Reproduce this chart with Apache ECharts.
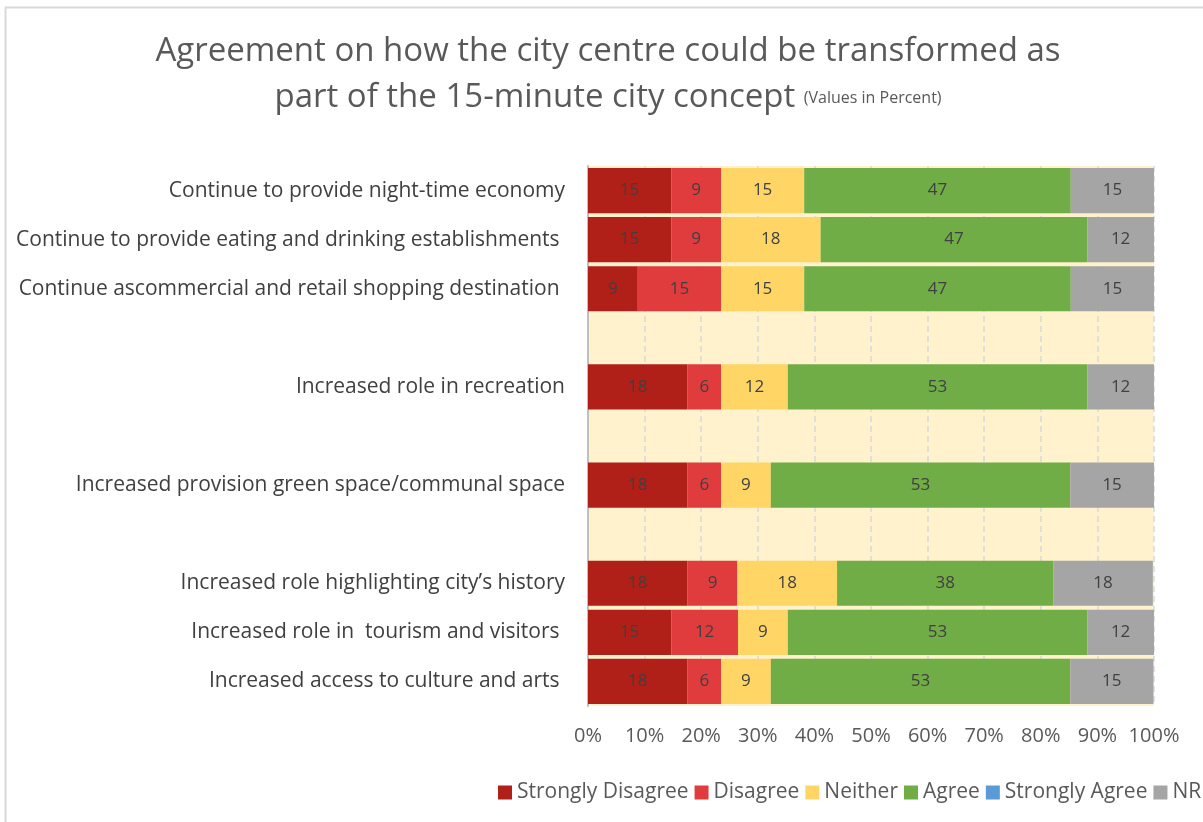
<!DOCTYPE html>
<html>
<head>
<meta charset="utf-8">
<script src="https://cdn.jsdelivr.net/npm/echarts@6/dist/echarts.min.js"></script>
<style>
  html, body { margin: 0; padding: 0; background: #fff; overflow: hidden; }
  #chart { width: 1400px; height: 822px; }
</style>
</head>
<body>
<div id="chart"></div>
<script>
// rows top to bottom, '' = empty spacer rows
const categories = [
  "Continue to provide night-time economy",
  "Continue to provide eating and drinking establishments ",
  "Continue ascommercial and retail shopping destination ",
  "",
  "Increased role in recreation",
  "",
  "Increased provision green space/communal space",
  "",
  "Increased role highlighting city\u2019s history",
  "Increased role in  tourism and visitors ",
  "Increased access to culture and arts ",
];
const seriesNames = ["Strongly Disagree", "Disagree", "Neither", "Agree", "Strongly Agree", "NR"];
const stronglyDisagree = [14.7, 14.7, 8.8, null, 17.6, null, 17.6, null, 17.6, 14.7, 17.6];
const disagree = [8.8, 8.8, 14.7, null, 5.9, null, 5.9, null, 8.8, 11.8, 5.9];
const neither = [14.7, 17.6, 14.7, null, 11.8, null, 8.8, null, 17.6, 8.8, 8.8];
const agree = [47.1, 47.1, 47.1, null, 52.9, null, 52.9, null, 38.2, 52.9, 52.9];
const stronglyAgree = [0, 0, 0, null, 0, null, 0, null, 0, 0, 0];
const nr = [14.7, 11.8, 14.7, null, 11.8, null, 14.8, null, 17.6, 11.8, 14.7];
const colors = ["#B11F19", "#E13C3D", "#FFD666", "#70AD47", "#5B9BD5", "#A5A5A5"];

const FONT = "Open Sans";
var myChart = echarts.init(document.getElementById("chart"));

const seriesData = [stronglyDisagree, disagree, neither, agree, stronglyAgree, nr];
const series = seriesData.map(function (d, i) {
  return {
    name: seriesNames[i],
    type: "bar",
    stack: "total",
    barCategoryGap: "8%",
    itemStyle: { color: colors[i] },
    label: {
      show: true,
      position: "inside",
      color: "#404040",
      fontFamily: FONT,
      fontSize: 17,
      formatter: function (p) {
        return p.value ? Math.round(p.value) : "";
      },
    },
    data: d,
  };
});

var option = {
  animation: false,
  textStyle: { fontFamily: FONT },
  title: {
    text: "Agreement on how the city centre could be transformed as\npart of the 15-minute city concept {s|(Values in Percent)}",
    left: 603,
    top: 24,
    textAlign: "center",
    textStyle: {
      fontFamily: FONT,
      fontSize: 33,
      fontWeight: "normal",
      color: "#595959",
      lineHeight: 46,
      rich: {
        s: { fontFamily: FONT, fontSize: 16, color: "#595959" },
      },
    },
  },
  legend: {
    left: 493,
    top: 777,
    icon: "rect",
    itemWidth: 14,
    itemHeight: 14,
    itemGap: 6,
    textStyle: { fontFamily: FONT, fontSize: 21, color: "#595959" },
    data: seriesNames,
  },
  graphic: [
    {
      type: "rect",
      shape: { x: 5.5, y: 7.5, width: 1500, height: 1000 },
      style: { fill: "none", stroke: "#D9D9D9", lineWidth: 2 },
      silent: true,
    },
  ],
  grid: {
    left: 588,
    right: 246,
    top: 166,
    bottom: 116,
    show: true,
    backgroundColor: "#FFF2CC",
    borderWidth: 0,
  },
  xAxis: {
    type: "value",
    min: 0,
    max: 100,
    interval: 10,
    axisLine: { show: false },
    axisTick: { show: false },
    axisLabel: {
      formatter: "{value}%",
      fontFamily: FONT,
      fontSize: 20,
      color: "#595959",
      margin: 20,
    },
    splitLine: {
      show: true,
      lineStyle: { color: "#D9D9D9", type: [6, 4], width: 1.5 },
    },
  },
  yAxis: {
    type: "category",
    inverse: true,
    data: categories,
    axisLine: { show: true, lineStyle: { color: "#BFBFBF", width: 2 } },
    axisTick: { show: false },
    axisLabel: {
      fontFamily: FONT,
      fontSize: 21,
      color: "#404040",
      margin: 23,
    },
  },
  series: series,
};
myChart.setOption(option);
</script>
</body>
</html>
